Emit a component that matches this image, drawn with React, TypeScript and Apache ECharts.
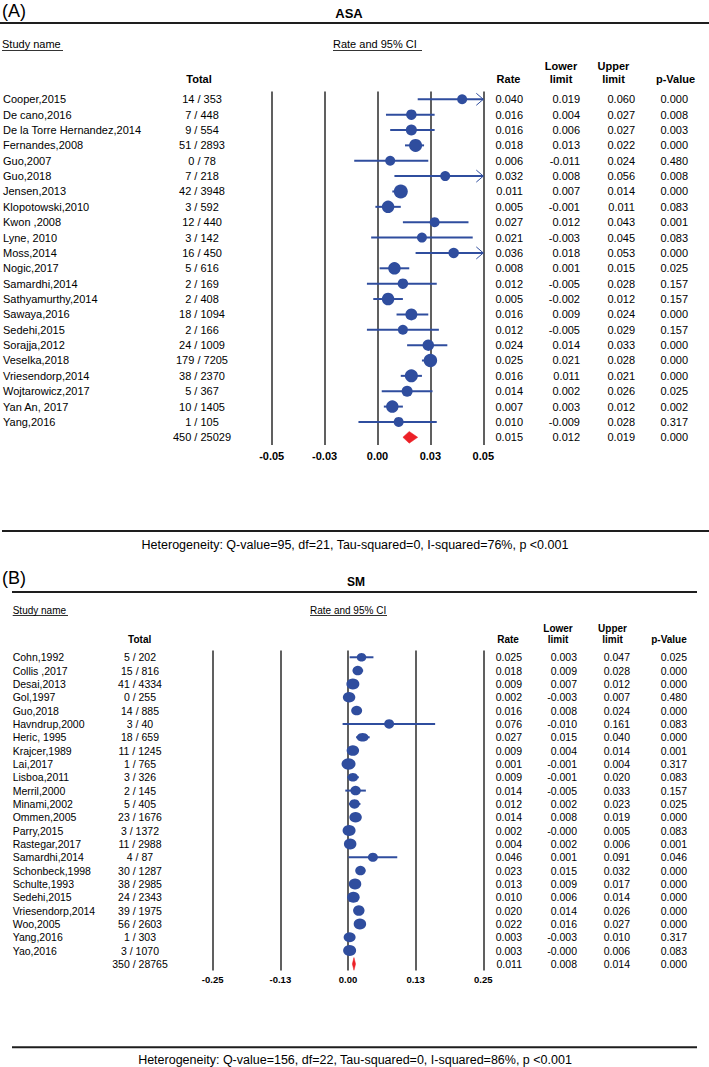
import React, { useEffect, useRef } from "react";
import * as echarts from "echarts";

// ---------- Panel A (ASA) ----------
const studiesA = ["Cooper,2015", "De cano,2016", "De la Torre Hernandez,2014", "Fernandes,2008", "Guo,2007", "Guo,2018", "Jensen,2013", "Klopotowski,2010", "Kwon ,2008", "Lyne, 2010", "Moss,2014", "Nogic,2017", "Samardhi,2014", "Sathyamurthy,2014", "Sawaya,2016", "Sedehi,2015", "Sorajja,2012", "Veselka,2018", "Vriesendorp,2014", "Wojtarowicz,2017", "Yan An, 2017", "Yang,2016", ""];
const eventsA = [14, 7, 9, 51, 0, 7, 42, 3, 12, 3, 16, 5, 2, 2, 18, 2, 24, 179, 38, 5, 10, 1, 450];
const totalA = [353, 448, 554, 2893, 78, 218, 3948, 592, 440, 142, 450, 616, 169, 408, 1094, 166, 1009, 7205, 2370, 367, 1405, 105, 25029];
const rateA = [0.040, 0.016, 0.016, 0.018, 0.006, 0.032, 0.011, 0.005, 0.027, 0.021, 0.036, 0.008, 0.012, 0.005, 0.016, 0.012, 0.024, 0.025, 0.016, 0.014, 0.007, 0.010, 0.015];
const lowerA = [0.019, 0.004, 0.006, 0.013, -0.011, 0.008, 0.007, -0.001, 0.012, -0.003, 0.018, 0.001, -0.005, -0.002, 0.009, -0.005, 0.014, 0.021, 0.011, 0.002, 0.003, -0.009, 0.012];
const upperA = [0.060, 0.027, 0.027, 0.022, 0.024, 0.056, 0.014, 0.011, 0.043, 0.045, 0.053, 0.015, 0.028, 0.012, 0.024, 0.029, 0.033, 0.028, 0.021, 0.026, 0.012, 0.028, 0.019];
const pA = [0.000, 0.008, 0.003, 0.000, 0.480, 0.008, 0.000, 0.083, 0.001, 0.083, 0.000, 0.025, 0.157, 0.157, 0.000, 0.157, 0.000, 0.000, 0.000, 0.025, 0.002, 0.317, 0.000];
const ticksA = ["-0.05", "-0.03", "0.00", "0.03", "0.05"];
const heteroA = "Heterogeneity: Q-value=95, df=21, Tau-squared=0, I-squared=76%, p <0.001";

// ---------- Panel B (SM) ----------
const studiesB = ["Cohn,1992", "Collis ,2017", "Desai,2013", "Gol,1997", "Guo,2018", "Havndrup,2000", "Heric, 1995", "Krajcer,1989", "Lai,2017", "Lisboa,2011", "Merril,2000", "Minami,2002", "Ommen,2005", "Parry,2015", "Rastegar,2017", "Samardhi,2014", "Schonbeck,1998", "Schulte,1993", "Sedehi,2015", "Vriesendorp,2014", "Woo,2005", "Yang,2016", "Yao,2016", ""];
const eventsB = [5, 15, 41, 0, 14, 3, 18, 11, 1, 3, 2, 5, 23, 3, 11, 4, 30, 38, 24, 39, 56, 1, 3, 350];
const totalB = [202, 816, 4334, 255, 885, 40, 659, 1245, 765, 326, 145, 405, 1676, 1372, 2988, 87, 1287, 2985, 2343, 1975, 2603, 303, 1070, 28765];
const rateB = [0.025, 0.018, 0.009, 0.002, 0.016, 0.076, 0.027, 0.009, 0.001, 0.009, 0.014, 0.012, 0.014, 0.002, 0.004, 0.046, 0.023, 0.013, 0.010, 0.020, 0.022, 0.003, 0.003, 0.011];
const lowerB = [0.003, 0.009, 0.007, -0.003, 0.008, -0.010, 0.015, 0.004, -0.001, -0.001, -0.005, 0.002, 0.008, -0.0004, 0.002, 0.001, 0.015, 0.009, 0.006, 0.014, 0.016, -0.003, -0.0004, 0.008];
const upperB = [0.047, 0.028, 0.012, 0.007, 0.024, 0.161, 0.040, 0.014, 0.004, 0.020, 0.033, 0.023, 0.019, 0.005, 0.006, 0.091, 0.032, 0.017, 0.014, 0.026, 0.027, 0.010, 0.006, 0.014];
const pB = [0.025, 0.000, 0.000, 0.480, 0.000, 0.083, 0.000, 0.001, 0.317, 0.083, 0.157, 0.025, 0.000, 0.083, 0.001, 0.046, 0.000, 0.000, 0.000, 0.000, 0.000, 0.317, 0.083, 0.000];
const ticksB = ["-0.25", "-0.13", "0.00", "0.13", "0.25"];
const heteroB = "Heterogeneity: Q-value=156, df=22, Tau-squared=0, I-squared=86%, p <0.001";

// ---------- styles (marker sizes per study, px) ----------
const markerA = [10, 10.5, 11, 13, 10, 10, 14, 12.5, 10, 10, 10.5, 12.5, 10.5, 12.5, 12, 10, 11.5, 13.5, 13, 11, 12.5, 10];
const markerB = [[9.5, 8.5], [10.5, 9.5], [13, 11], [12.5, 10.5], [11, 9.5], [10, 9.5], [12, 8.5], [12.5, 10.5], [14, 11.5], [10.5, 8.5], [10.5, 9.5], [10.5, 9.5], [12.5, 10.5], [13, 11], [12.5, 11], [10, 9], [10.5, 9.5], [12.5, 11], [12.5, 11], [11.5, 10.5], [12.5, 11], [12, 10], [13, 11]];

const BLUE = "#2f4d9e";
const RED = "#ec2027";
const FONT = "Liberation Sans, Arial, sans-serif";

const f3 = (v: number) => v.toFixed(3);

type PanelCfg = {
  gridIdx: number;
  left: number; top: number; width: number; height: number;
  min: number; max: number; interval: number; ticks: string[];
  studies: string[]; events: number[]; totals: number[];
  rate: number[]; lower: number[]; upper: number[]; p: number[];
  markers: any[];
  fontSize: number; tickFont: number; tickMargin: number;
  nameX: number; totalX: number; rateX: number; lowerX: number; upperX: number; pX: number;
  diamondH: number;
};

function buildPanel(c: PanelCfg) {
  const n = c.studies.length;
  const right = c.left + c.width;
  const grid = { left: c.left, top: c.top, width: c.width, height: c.height, containLabel: false };
  const xAxis = {
    type: "value", gridIndex: c.gridIdx, min: c.min, max: c.max, interval: c.interval,
    axisLine: { show: false }, axisTick: { show: false },
    splitLine: { show: true, lineStyle: { color: "#2b2b2b", width: 1.5 } },
    axisLabel: {
      margin: c.tickMargin, fontSize: c.tickFont, fontWeight: "bold", fontFamily: FONT, color: "#000",
      formatter: (v: number) => c.ticks[Math.round((v - c.min) / c.interval)] ?? "",
    },
  };
  const mkY = (data: string[], position: string, offset: number, align: string) => ({
    type: "category", gridIndex: c.gridIdx, data, inverse: true, position, offset,
    axisLine: { show: false }, axisTick: { show: false }, splitLine: { show: false },
    axisLabel: { interval: 0, margin: 0, align, fontSize: c.fontSize, fontFamily: FONT, color: "#000" },
  });
  const yAxes = [
    mkY(c.studies, "left", c.left - c.nameX, "left"),
    mkY(c.events.map((e, i) => `${e} / ${c.totals[i]}`), "left", c.left - c.totalX, "center"),
    mkY(c.rate.map(f3), "right", c.rateX - right, "right"),
    mkY(c.lower.map(f3), "right", c.lowerX - right, "right"),
    mkY(c.upper.map(f3), "right", c.upperX - right, "right"),
    mkY(c.p.map(f3), "right", c.pX - right, "right"),
  ];
  const yIdx = c.gridIdx * 6;
  const xIdx = c.gridIdx;
  const ciData = c.lower.slice(0, n - 1).map((l, i) => [i, l, c.upper[i]]);
  const series: any[] = [
    {
      type: "custom", xAxisIndex: xIdx, yAxisIndex: yIdx, data: ciData, z: 2,
      encode: { x: [1, 2], y: 0 },
      renderItem: (_p: any, api: any) => {
        const i = api.value(0), l = api.value(1), h = api.value(2);
        const a = api.coord([Math.max(l, c.min), i]);
        const b = api.coord([Math.min(h, c.max), i]);
        const children: any[] = [
          { type: "line", shape: { x1: a[0], y1: a[1], x2: b[0], y2: b[1] }, style: { stroke: BLUE, lineWidth: 2 } },
        ];
        if (h > c.max) {
          children.push({ type: "polyline", shape: { points: [[b[0] - 7, b[1] - 6], [b[0], b[1]], [b[0] - 7, b[1] + 6]] }, style: { stroke: BLUE, lineWidth: 1, fill: "none" } });
        }
        if (l < c.min) {
          children.push({ type: "polyline", shape: { points: [[a[0] + 7, a[1] - 6], [a[0], a[1]], [a[0] + 7, a[1] + 6]] }, style: { stroke: BLUE, lineWidth: 1, fill: "none" } });
        }
        return { type: "group", children };
      },
    },
    {
      type: "scatter", xAxisIndex: xIdx, yAxisIndex: yIdx, z: 3,
      data: c.rate.slice(0, n - 1).map((r, i) => [r, i]),
      symbol: "circle",
      symbolSize: (_v: any, p: any) => c.markers[p.dataIndex],
      itemStyle: { color: BLUE, opacity: 1 },
      silent: true,
    },
    {
      type: "custom", xAxisIndex: xIdx, yAxisIndex: yIdx, z: 3,
      data: [[n - 1, c.lower[n - 1], c.upper[n - 1], c.rate[n - 1]]],
      encode: { x: [1, 2, 3], y: 0 },
      renderItem: (_p: any, api: any) => {
        const i = api.value(0);
        const a = api.coord([api.value(1), i]);
        const b = api.coord([api.value(2), i]);
        const m = api.coord([api.value(3), i]);
        const hh = c.diamondH / 2;
        return {
          type: "polygon",
          shape: { points: [[a[0], a[1]], [m[0], m[1] - hh], [b[0], b[1]], [m[0], m[1] + hh]] },
          style: { fill: RED, stroke: RED, lineWidth: 0.5 },
        };
      },
    },
  ];
  return { grid, xAxis, yAxes, series };
}

const T = (x: number, y: number, text: string, size: number, bold = false, align = "left") => ({
  type: "text", x, y, silent: true,
  style: {
    text, fill: "#000", fontSize: size, fontFamily: FONT, fontWeight: bold ? "bold" : "normal",
    align, verticalAlign: "middle", textAlign: align, textVerticalAlign: "middle",
  },
});
const L = (x1: number, x2: number, y: number, w = 2, color = "#1e1e1e") => ({
  type: "line", silent: true, shape: { x1, y1: y, x2, y2: y }, style: { stroke: color, lineWidth: w },
});

export default function App() {
  const ref = useRef<HTMLDivElement>(null);
  useEffect(() => {
    if (!ref.current) return;
    const chart = echarts.init(ref.current, undefined, { renderer: "svg" });
    const A = buildPanel({
      gridIdx: 0, left: 270.7, top: 91.6, width: 212.6, height: 353.4,
      min: -0.05, max: 0.05, interval: 0.025, ticks: ticksA,
      studies: studiesA, events: eventsA, totals: totalA, rate: rateA, lower: lowerA, upper: upperA, p: pA,
      markers: markerA, fontSize: 11, tickFont: 11, tickMargin: 5,
      nameX: 2, totalX: 201, rateX: 523, lowerX: 580, upperX: 635, pX: 688, diamondH: 11.7,
    });
    const B = buildPanel({
      gridIdx: 1, left: 212.7, top: 650.6, width: 270.6, height: 320,
      min: -0.25, max: 0.25, interval: 0.125, ticks: ticksB,
      studies: studiesB, events: eventsB, totals: totalB, rate: rateB, lower: lowerB, upper: upperB, p: pB,
      markers: markerB, fontSize: 10.5, tickFont: 9.5, tickMargin: 4,
      nameX: 12.7, totalX: 140, rateX: 522, lowerX: 577, upperX: 630, pX: 687, diamondH: 12.7,
    });
    const graphic = [
      // Panel A header
      T(2, 11, "(A)", 18),
      T(349, 13, "ASA", 13, true, "center"),
      L(0, 709, 23),
      T(2, 44, "Study name", 11),
      L(2, 63, 50.5, 0.8, "#000"),
      T(333, 44, "Rate and 95% CI", 11),
      L(333, 422, 50.5, 0.8, "#000"),
      T(199, 79, "Total", 11, true, "center"),
      T(508.5, 79, "Rate", 11, true, "center"),
      T(561, 65.7, "Lower", 11, true, "center"),
      T(561, 79, "limit", 11, true, "center"),
      T(613.5, 65.7, "Upper", 11, true, "center"),
      T(613.5, 79, "limit", 11, true, "center"),
      T(675.5, 79, "p-Value", 11, true, "center"),
      L(2, 709, 531),
      T(355, 545, heteroA, 12.5, false, "center"),
      // Panel B header
      T(2, 578, "(B)", 18),
      T(356, 582, "SM", 12, true, "center"),
      L(12, 697, 592),
      T(12.7, 610, "Study name", 10),
      L(12.7, 68, 615.5, 0.8, "#000"),
      T(310, 610, "Rate and 95% CI", 10),
      L(310, 387, 615.5, 0.8, "#000"),
      T(139.7, 639.5, "Total", 10, true, "center"),
      T(508, 639.5, "Rate", 10, true, "center"),
      T(558, 628.3, "Lower", 10, true, "center"),
      T(558, 639.5, "limit", 10, true, "center"),
      T(612.5, 628.3, "Upper", 10, true, "center"),
      T(612.5, 639.5, "limit", 10, true, "center"),
      T(669, 639.5, "p-Value", 10, true, "center"),
      L(12, 697, 1047.3),
      T(355, 1060, heteroB, 12.5, false, "center"),
    ];
    chart.setOption({
      animation: false,
      backgroundColor: "#fff",
      textStyle: { fontFamily: FONT },
      grid: [A.grid, B.grid],
      xAxis: [A.xAxis, B.xAxis],
      yAxis: [...A.yAxes, ...B.yAxes],
      series: [...A.series, ...B.series],
      graphic,
    });
    return () => chart.dispose();
  }, []);
  return (
    <div style={{ position: "absolute", left: 0, top: 0, width: 709, height: 1067, background: "#fff" }}>
      <div ref={ref} style={{ width: 709, height: 1067 }} />
    </div>
  );
}
